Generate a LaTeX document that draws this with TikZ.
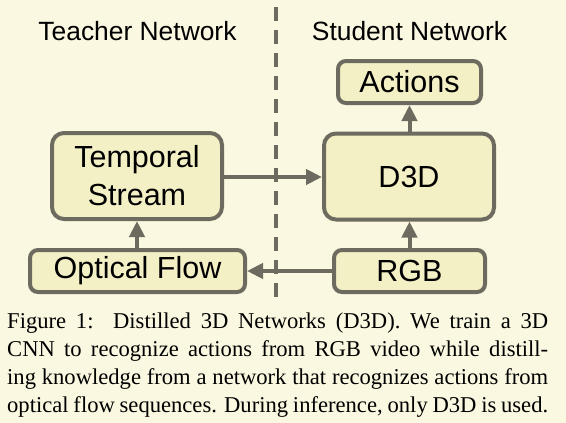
\documentclass[tikz,border=0pt]{standalone}
\usepackage{fontspec}
\setmainfont{Liberation Sans}
\newfontfamily\capfont{Liberation Serif}
\usetikzlibrary{arrows.meta}
\definecolor{bgcol}{HTML}{FAF8E0}
\definecolor{boxfill}{HTML}{F4F0C6}
\definecolor{edgecol}{HTML}{6D6B5F}
\tikzset{
  netbox/.style={draw=edgecol, fill=boxfill, line width=4pt, inner sep=0pt,
    align=center, font=\fontsize{30.5}{38}\selectfont, text=black},
  smallbox/.style={netbox, rounded corners=8pt, minimum height=42pt},
  bigbox/.style={netbox, rounded corners=12pt, minimum width=170pt, minimum height=86pt},
  flow/.style={draw=edgecol, line width=4pt, -{Triangle[length=16pt,width=15pt]}},
  divider/.style={draw=edgecol, line width=4pt, dash pattern=on 14pt off 9pt},
  header/.style={anchor=base, inner sep=0pt, font=\fontsize{26.4}{30}\selectfont},
  capline/.style={anchor=base west, inner sep=0pt, font=\capfont\fontsize{22.6}{28}\selectfont}
}
\begin{document}
\begin{tikzpicture}[x=1pt,y=-1pt]
\useasboundingbox[fill=bgcol] (0,0) rectangle (566,423);
\coordinate (dtop) at (276,7);
\coordinate (dbot) at (276,298);
\draw[divider] (dtop) -- (dbot);
\node[header] (teacher) at (137.5,40) {Teacher Network};
\node[header] (student) at (409.5,40) {Student Network};
\node[smallbox, minimum width=143pt] (actions) at (409.5,82) {Actions};
\node[bigbox] (d3d) at (409,176.5) {D3D};
\node[bigbox] (ts) at (137,176) {Temporal\\Stream};
\node[smallbox, minimum width=215pt] (of) at (137.5,271) {Optical Flow};
\node[smallbox, minimum width=151pt] (rgb) at (409.5,271) {RGB};
\draw[flow] (ts.east |- 0,177) -- (d3d.west |- 0,177);
\draw[flow] (rgb.west) -- (of.east);
\draw[flow] (of.north -| 137,0) -- (ts.south -| 137,0);
\draw[flow] (rgb.north) -- (d3d.south -| rgb.north);
\draw[flow] (d3d.north -| actions.south) -- (actions.south);
\node[capline] (c1) at (7,328) {\hbox to 541pt{Figure 1:\ \ Distilled 3D Networks (D3D). We train a 3D}};
\node[capline] (c2) at (7,356) {\hbox to 541pt{CNN to recognize actions from RGB video while distill-}};
\node[capline] (c3) at (7,384) {\hbox to 541pt{ing knowledge from a network that recognizes actions from}};
\node[capline] (c4) at (7,412) {\hbox to 541pt{optical flow sequences. During inference, only D3D is used.}};
\end{tikzpicture}
\end{document}
